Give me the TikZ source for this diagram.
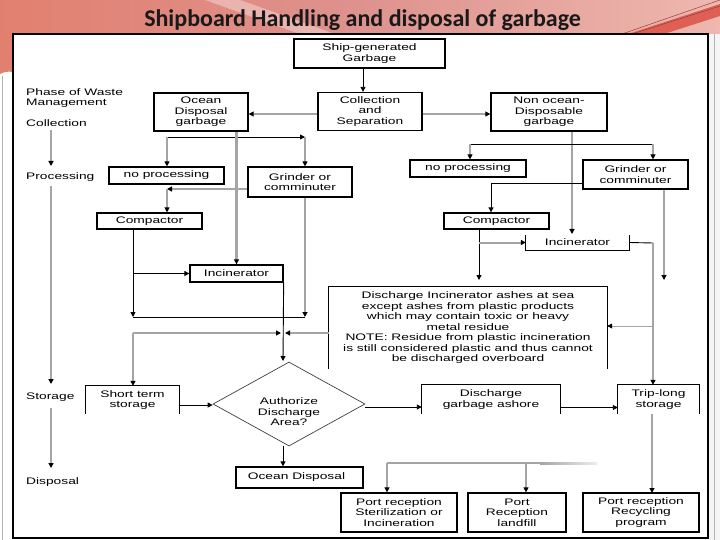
\documentclass[tikz,border=0pt]{standalone}
\usepackage{fontspec}
\usetikzlibrary{arrows.meta,shapes.geometric,calc}
\newfontfamily\dg[FakeStretch=1.45]{Liberation Sans}
\newfontfamily\ttl{Carlito}
\newcommand\dgf{\dg\fontsize{9.5}{10.5}\selectfont}
\definecolor{lgray}{RGB}{165,165,165}
\definecolor{bandL}{RGB}{226,128,112}
\definecolor{bandM}{RGB}{222,146,142}
\definecolor{bandR}{RGB}{238,184,174}
\definecolor{redband}{RGB}{222,96,84}
\definecolor{darkred}{RGB}{150,60,60}
\begin{document}
\begin{tikzpicture}[x=1pt,y=-1pt,
  box/.style={draw=black, line width=1.3pt, inner sep=0pt, align=center, font=\dgf, text=black},
  nobox/.style={inner sep=0pt, align=center, font=\dgf, text=black},
  phase/.style={inner sep=0pt, anchor=west, align=left, font=\dgf, text=black},
  gl/.style={draw=lgray, line width=2pt},
  bl/.style={draw=black, line width=0.9pt},
  tl/.style={draw=lgray, line width=0.8pt},
  arr/.style={-{Triangle[length=5pt,width=5pt,color=black]}},
  open/.style={line width=1.3pt, draw=black}
]
\useasboundingbox (0,0) rectangle (720,540);
% background
\fill[white] (0,0) rectangle (720,540);
\shade[left color=bandL, right color=bandR, middle color=bandM] (0,0) rectangle (720,34);
\fill[bandL] (0,33) -- (13,33) -- (13,72) .. controls (8,71) and (4,72) .. (0,74) -- cycle;
\fill[white, opacity=0.35] (205,0) -- (240,0) -- (335,34) -- (300,34) -- cycle;
\fill[redband] (628,34) -- (720,4) -- (720,16) -- (664,34) -- cycle;
\draw[darkred, line width=0.5pt] (622,34) -- (720,0);
\draw[darkred, line width=0.5pt] (632,34) -- (720,6);
\fill[black!4] (708,34) rectangle (720,540);
\draw[black!30, line width=0.6pt] (714,34) -- (714,540);
\draw[black!30, line width=0.8pt] (2,76) -- (2,540);
% title
\node[anchor=base, inner sep=0pt, font=\ttl\bfseries\fontsize{24}{26}\selectfont, text=black!90] (title) at (362.5,26.5) {Shipboard Handling and disposal of garbage};
% frame
\draw[black, line width=2.4pt] (13,34) rectangle (708,538);

% phase column
\node[phase] (ph) at (26,98) {Phase of Waste\\Management};
\node[phase] (pc) at (26,123) {Collection};
\node[phase] (pp) at (26,177) {Processing};
\node[phase] (ps) at (26,397) {Storage};
\node[phase] (pd) at (26,482) {Disposal};
\coordinate (pa1) at (51,130);
\coordinate (pa2) at (51,166);
\coordinate (pa3) at (51,186);
\coordinate (pa4) at (51,384);
\coordinate (pa5) at (51,408);
\coordinate (pa6) at (51,468);
\draw[gl, line width=1.4pt, arr] (pa1) -- (pa2);
\draw[gl, line width=1.4pt, arr] (pa3) -- (pa4);
\draw[gl, line width=1.4pt, arr] (pa5) -- (pa6);

% top
\node[box, minimum width=151, minimum height=29] (ship) at (369.5,53.5) {Ship-generated\\Garbage};
\node[box, minimum width=104, minimum height=38] (cs) at (370,111.5) {Collection\\and\\Separation};
\node[box, minimum width=94, minimum height=38] (ocean) at (201,112) {Ocean\\Disposal\\garbage};
\node[box, minimum width=116, minimum height=38] (nonocean) at (549,112) {Non ocean-\\Disposable\\garbage};
\coordinate (sx) at (363,0);
\draw[bl, arr] (ship.south -| sx) -- (cs.north -| sx);
\draw[gl, arr] ([yshift=-2.5pt]cs.west) -- ([yshift=-2pt]ocean.east);
\draw[gl, arr] ([yshift=-2.5pt]cs.east) -- ([yshift=-2pt]nonocean.west);

% left processing
\node[box, minimum width=115, minimum height=17] (np1) at (166.5,175.5) {no processing};
\node[box, minimum width=104, minimum height=30] (gr1) at (300,182) {Grinder or\\comminuter};
\node[box, minimum width=105, minimum height=16] (cp1) at (149.5,221) {Compactor};
\node[box, minimum width=93, minimum height=17] (inc1) at (236.5,273.5) {Incinerator};
\coordinate (os1) at (167,137);
\coordinate (os2) at (305,137);
\draw[bl, arr] (os1) -- (os2);
\draw[gl, arr] (os1) -- (os1 |- np1.north);
\draw[gl, arr] (os2) -- (os2 |- gr1.north);
\coordinate (g1c) at (167,189);
\draw[gl, arr] (gr1.west |- g1c) -- (g1c);
\draw[gl, arr] (g1c) -- (g1c |- cp1.north);
\draw[gl, line width=2.4pt, arr] (ocean.south -| inc1.north) -- (inc1.north);
\coordinate (j1) at (133,317);
\coordinate (j2) at (305,317);
\draw[bl, arr] (cp1.south -| j1) -- (j1);
\draw[bl, arr] (j1 |- inc1.west) -- (inc1.west);
\draw[gl, line width=2.4pt, arr] (gr1.south -| j2) -- (j2);
\draw[bl] (j1) -- (j2);

% ashes box
\node[nobox, minimum width=278, minimum height=82] (ash) at (468,328) {Discharge Incinerator ashes at sea\\except ashes from plastic products\\which may contain toxic or heavy\\metal residue\\NOTE: Residue from plastic incineration\\is still considered plastic and thus cannot\\be discharged overboard};
\draw[open] (ash.south west) -- (ash.north west) -- (ash.north east) -- (ash.south east);

\coordinate (j3) at (133,333);
\coordinate (m1) at (281,333);
\coordinate (m2) at (285,333);
\draw[gl, arr] (j3) -- (m1);
\draw[gl, arr] (ash.west |- m2) -- (m2);

% storage row
\node[nobox, minimum width=93, minimum height=28] (sts) at (132.5,400) {Short term\\storage};
\draw[open] (sts.south west) -- (sts.north west) -- (sts.north east) -- (sts.south east);
\draw[gl, arr] (j3) -- (sts.north -| j3);
\node[diamond, draw=black!75, line width=0.7pt, minimum width=152, minimum height=84, inner sep=0pt] (dia) at (289,404) {};
\node[nobox] (diat) at (289,412) {Authorize\\Discharge\\Area?};
\coordinate (dtop) at (283,361);
\draw[bl, arr] (inc1.south east) -- (dtop);
\draw[bl, arr] ([yshift=-5pt]sts.east) -- ([yshift=-1pt]dia.west);
\node[nobox, minimum width=138, minimum height=29] (dis) at (491,399.5) {Discharge\\garbage ashore};
\draw[open] (dis.south west) -- (dis.north west) -- (dis.north east) -- (dis.south east);
\node[nobox, minimum width=81, minimum height=29] (trip) at (658.5,399.5) {Trip-long\\storage};
\draw[open] (trip.south west) -- (trip.north west) -- (trip.north east) -- (trip.south east);
\draw[bl, arr] ([yshift=-3pt]dia.east) -- ([yshift=-3pt]dia.east -| dis.west);
\draw[bl, arr] ([yshift=-8pt]dis.east) -- ([yshift=-8pt]trip.west);

% disposal
\node[box, minimum width=127, minimum height=21] (od) at (299.5,477.5) {Ocean Disposal\hspace*{6pt}};
\draw[bl, arr] (dia.south -| dtop) -- (od.north -| dtop);
\node[box, minimum width=116, minimum height=39] (pr1) at (399,512.5) {Port reception\\Sterilization or\\Incineration};
\node[box, minimum width=98, minimum height=39] (pr2) at (517,512.5) {Port\\Reception\\landfill};
\node[box, minimum width=116, minimum height=39] (pr3) at (641,512.5) {Port reception\\Recycling\\program};
\coordinate (b1) at (387,463);
\coordinate (b2) at (526,463);
\coordinate (b3) at (597,463);
\shade[left color=lgray, right color=lgray!20, shading angle=90] (540,462) rectangle (597,464);
\draw[gl] (b1) -- (542,463);
\draw[gl, arr] (b1) -- (b1 |- pr1.north);
\draw[gl, arr] (b2) -- (b2 |- pr2.north);
\coordinate (t3) at (652,493);
\draw[gl, arr] (trip.south -| t3) -- (t3);

% right processing
\node[box, minimum width=116, minimum height=17] (np2) at (468,168.5) {no processing};
\node[box, minimum width=105, minimum height=29] (gr2) at (635.5,174.5) {Grinder or\\comminuter};
\node[box, minimum width=105, minimum height=16] (cp2) at (496.5,221) {Compactor};
\node[nobox, minimum width=103, minimum height=15] (inc2) at (577.5,242.5) {Incinerator};
\draw[open] (inc2.north west) -- (inc2.south west) -- (inc2.south east) -- (inc2.north east);
\coordinate (x572) at (572,234);
\draw[gl, line width=1.6pt, arr] (nonocean.south -| x572) -- (x572);
\coordinate (s1) at (470,144);
\coordinate (s2) at (653,144);
\draw[bl] (s1) -- (s2);
\draw[gl, arr] (s1) -- (s1 |- np2.north);
\draw[gl, arr] (s2) -- (s2 |- gr2.north);
\coordinate (c2t) at (491,183);
\draw[bl, arr] (gr2.west |- c2t) -- (c2t) -- (c2t |- cp2.north);
\coordinate (c3) at (479,280);
\draw[bl, arr] (cp2.south -| c3) -- (c3);
\draw[gl, arr] (inc2.west -| c3) -- (inc2.west);
\coordinate (c4) at (664,280);
\draw[gl, line width=2.4pt, arr] (gr2.south -| c4) -- (c4);
\coordinate (c5) at (653,243);
\draw[bl] (inc2.east) -- (c5);
\draw[gl, arr] (c5) -- (c5 |- trip.north);
\coordinate (c6) at (653,326);
\draw[tl, arr] (c6) -- (ash.east |- c6);
\end{tikzpicture}
\end{document}
